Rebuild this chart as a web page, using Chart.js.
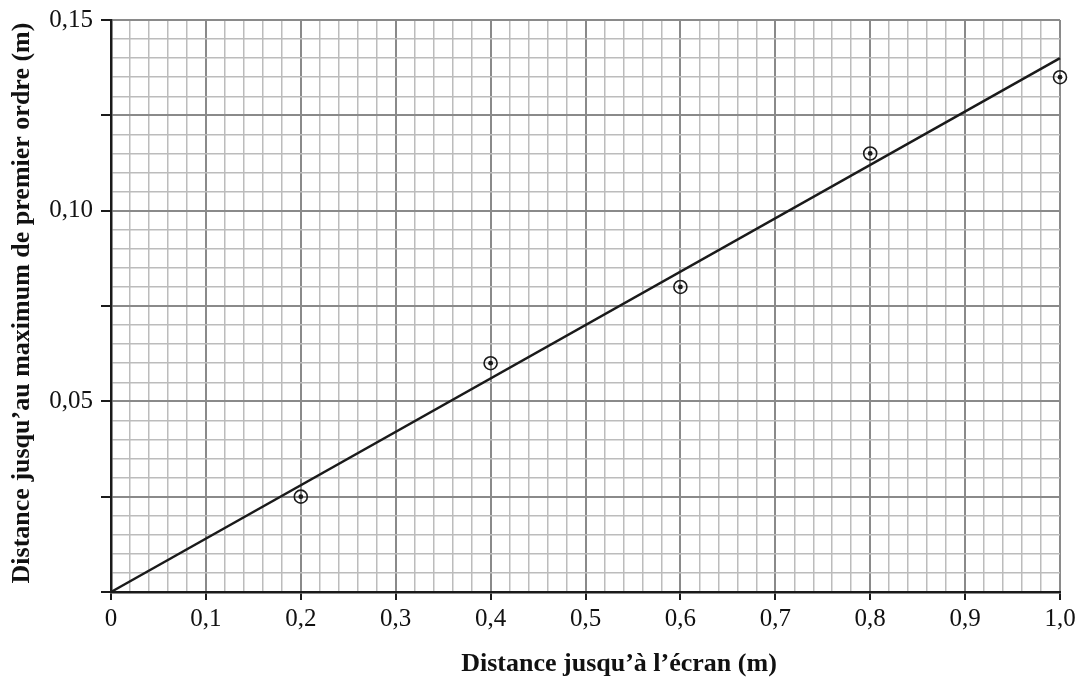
<!DOCTYPE html>
<html><head><meta charset="utf-8">
<script src="https://cdn.jsdelivr.net/npm/chart.js@4.4.1/dist/chart.umd.min.js"></script>
<style>html,body{margin:0;padding:0;background:#fff}#wrap{width:1085px;height:681px}</style>
</head><body><div id="wrap"><canvas id="c" width="1085" height="681"></canvas></div>
<script>
const pointX = [0.2, 0.4, 0.6, 0.8, 1.0];
const pointY = [0.025, 0.06, 0.08, 0.115, 0.135];
const fitX = [0, 1.0];
const fitY = [0, 0.14];
const xTitle = "Distance jusqu\u2019à l\u2019écran (m)";
const yTitle = "Distance jusqu\u2019au maximum de premier ordre (m)";

const pts = pointX.map((x,i)=>({x, y: pointY[i]}));
const fit = fitX.map((x,i)=>({x, y: fitY[i]}));

const isMult = (v, s) => Math.abs(v/s - Math.round(v/s)) < 1e-6;

const titlePlugin = {
  id: 'titles',
  afterDraw(chart) {
    const ctx = chart.ctx;
    ctx.save();
    ctx.fillStyle = '#111';
    ctx.font = 'bold 26px "Liberation Serif"';
    ctx.textAlign = 'center';
    ctx.textBaseline = 'middle';
    ctx.fillText(xTitle, 619, 664);
    ctx.translate(22, 303);
    ctx.rotate(-Math.PI/2);
    ctx.fillText(yTitle, 0, 0);
    ctx.restore();
  }
};

new Chart(document.getElementById('c'), {
  type: 'scatter',
  data: { datasets: [
    { data: fit, type: 'line', borderColor: '#1a1a1a', borderWidth: 2.5, pointRadius: 0, fill: false, clip: false, order: 3 },
    { data: pts, pointRadius: 6.5, pointBorderWidth: 1.6, pointBackgroundColor: 'rgba(255,255,255,0)', pointBorderColor: '#1a1a1a', clip: false, order: 2 },
    { data: pts, pointRadius: 2.4, pointBorderWidth: 0, pointBackgroundColor: '#1a1a1a', clip: false, order: 1 }
  ]},
  options: {
    responsive: false, animation: false,
    layout: { padding: { top: 20, right: 25, left: 0, bottom: 0 } },
    plugins: { legend: { display: false }, tooltip: { enabled: false } },
    scales: {
      x: {
        type: 'linear', min: 0, max: 1.0,
        afterFit(s) { s.height = 89; s.paddingLeft = 0; s.paddingRight = 0; },
        border: { display: true, color: '#1a1a1a', width: 2.5, z: 1 },
        grid: {
          drawTicks: true, tickLength: 8,
          color: c => isMult(c.tick.value, 0.1) ? '#8a8a8a' : '#bcbcbc',
          lineWidth: c => isMult(c.tick.value, 0.1) ? 2 : 1.5,
          tickColor: c => isMult(c.tick.value, 0.1) ? '#1a1a1a' : 'rgba(0,0,0,0)',
          tickWidth: 2
        },
        ticks: {
          stepSize: 0.02, autoSkip: false, maxRotation: 0, padding: 4,
          color: '#111', font: { family: '"Liberation Serif"', size: 25 },
          callback: v => isMult(v, 0.1) ? (v === 0 ? '0' : v.toFixed(1).replace('.', ',')) : ''
        }
      },
      y: {
        type: 'linear', min: 0, max: 0.15,
        afterFit(s) { s.width = 111; s.paddingTop = 0; s.paddingBottom = 0; },
        border: { display: true, color: '#1a1a1a', width: 2.5, z: 1 },
        grid: {
          drawTicks: true, tickLength: 10,
          color: c => isMult(c.tick.value, 0.025) ? '#8a8a8a' : '#bcbcbc',
          lineWidth: c => isMult(c.tick.value, 0.025) ? 2 : 1.5,
          tickColor: c => isMult(c.tick.value, 0.025) ? '#1a1a1a' : 'rgba(0,0,0,0)',
          tickWidth: 2
        },
        ticks: {
          stepSize: 0.005, autoSkip: false, padding: 8,
          color: '#111', font: { family: '"Liberation Serif"', size: 25 },
          callback: v => (isMult(v, 0.05) && v > 0.001) ? v.toFixed(2).replace('.', ',') : ''
        }
      }
    }
  },
  plugins: [titlePlugin]
});
</script></body></html>
